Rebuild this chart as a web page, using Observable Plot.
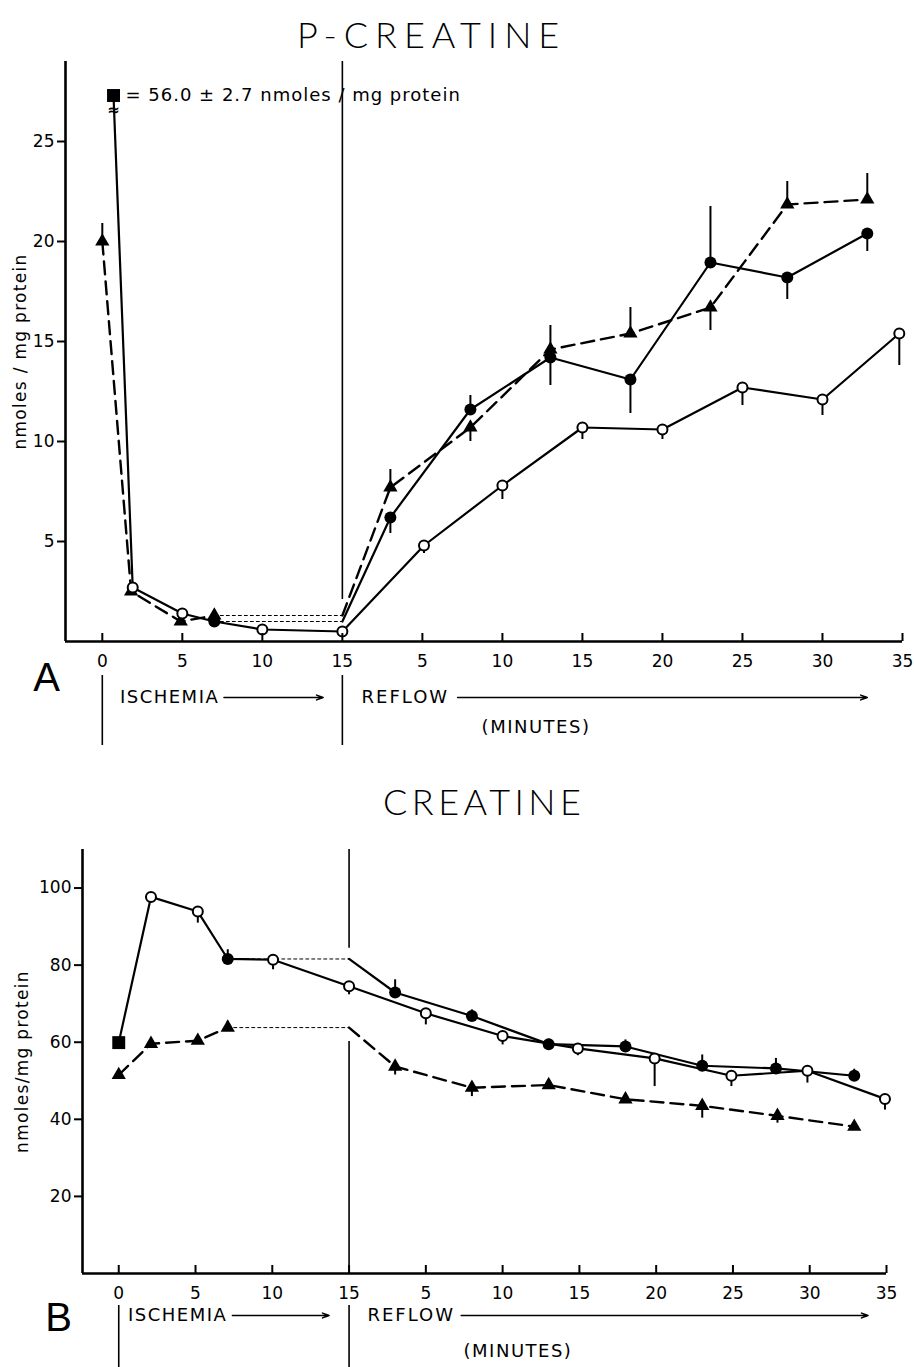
<!DOCTYPE html>
<html><head><meta charset="utf-8">
<script src="https://cdn.jsdelivr.net/npm/d3@7"></script>
<script src="https://cdn.jsdelivr.net/npm/@observablehq/plot@0.6"></script>
<style>
body{margin:0;background:#fff;width:914px;height:1367px;position:relative;overflow:hidden}
.title{position:absolute;font-family:Lato,"Open Sans",sans-serif;font-weight:300;font-size:36px;color:#000;line-height:1;white-space:nowrap}
.panel{position:absolute;left:0}
</style></head><body>
<div class="title" id="tA" style="left:297px;top:16px;letter-spacing:7px"></div>
<div id="pA" class="panel" style="top:55px"></div>
<div class="title" id="tB" style="left:383px;top:783px;letter-spacing:4.5px"></div>
<div id="pB" class="panel" style="top:835px"></div>
<script>
// ---- shared axis data ----
const xTicks = [0,5,10,15,20,25,30,35,40,45,50];
const xTickLabels = ["0","5","10","15","5","10","15","20","25","30","35"];
const phaseLabels = ["ISCHEMIA", "REFLOW", "(MINUTES)"];
const splitT = 15;

// ---- Panel A: P-creatine ----
const pcrTitle = "P-CREATINE";
const pcrLetter = "A";
const pcrYLabel = "nmoles / mg protein";
const pcrYTicks = [5,10,15,20,25];
const pcrControlT = [0.7];
const pcrControlV = [27.3];
const pcrControlNote = "= 56.0 ± 2.7 nmoles / mg protein";
const pcrOpenT = [1.9, 5, 10, 15, 20.1, 25, 30, 35, 40, 45, 49.8];
const pcrOpenV = [2.7, 1.4, 0.6, 0.5, 4.8, 7.8, 10.7, 10.6, 12.7, 12.1, 15.4];
const pcrOpenE = [null, null, null, null, 4.4, 7.1, 10.1, 10.1, 11.8, 11.3, 13.8];
const pcrFilledT = [7, 18, 23, 28, 33, 38, 42.8, 47.8];
const pcrFilledV = [1.0, 6.2, 11.6, 14.2, 13.1, 18.95, 18.2, 20.4];
const pcrFilledE = [null, 5.4, 12.3, 12.8, 11.4, 21.75, 17.1, 19.5];
const pcrTriT = [0, 1.8, 4.9, 7, 18, 23, 28, 33, 38, 42.8, 47.8];
const pcrTriV = [20.0, 2.5, 1.0, 1.3, 7.7, 10.7, 14.6, 15.4, 16.7, 21.85, 22.1];
const pcrTriE = [20.9, null, null, null, 8.6, 10.0, 15.8, 16.7, 15.55, 23.0, 23.4];
const pcrDividers = [[2.1, 29]];

// ---- Panel B: creatine ----
const crTitle = "CREATINE";
const crLetter = "B";
const crYLabel = "nmoles/mg protein";
const crYTicks = [20,40,60,80,100];
const crControlT = [0];
const crControlV = [59.9];
const crOpenT = [2.1, 5.15, 10.05, 15, 20, 25, 29.9, 34.9, 39.9, 44.85, 49.9];
const crOpenV = [97.7, 93.9, 81.4, 74.5, 67.5, 61.6, 58.4, 55.8, 51.3, 52.6, 45.3];
const crOpenE = [98.8, 90.9, 78.8, 72.3, 64.5, 59.3, 56.5, 48.5, 48.5, 49.4, 42.4];
const crFilledT = [7.1, 18, 23, 28, 33, 38, 42.8, 47.9];
const crFilledV = [81.6, 72.9, 66.8, 59.5, 58.9, 53.9, 53.2, 51.3];
const crFilledE = [84.0, 76.2, 68.4, 60.8, 60.6, 56.7, 55.8, 53.0];
const crTriT = [0, 2.1, 5.15, 7.1, 18, 23, 28, 33, 38, 42.9, 47.9];
const crTriV = [51.5, 59.6, 60.4, 63.8, 53.7, 48.2, 48.9, 45.2, 43.5, 40.9, 38.1];
const crTriE = [null, null, null, 65.4, 51.5, 45.9, null, null, 40.3, 39.0, null];
const crDividers = [[0, 60.2], [84.4, 110]];

const labelMap = new Map(xTicks.map((d, i) => [d, xTickLabels[i]]));
const FONT = "'DejaVu Sans', 'Liberation Sans', Arial, sans-serif";

function panel(cfg) {
  const ppu = (cfg.height - cfg.marginTop - cfg.marginBottom) / (cfg.yDomain[1] - cfg.yDomain[0]);
  const below = px => -px / ppu;
  const rows = (T, V, E) => T.map((t, i) => ({t, v: V[i], e: E ? E[i] : null}));
  const open = rows(cfg.openT, cfg.openV, cfg.openE);
  const filled = rows(cfg.filledT, cfg.filledV, cfg.filledE);
  const tri = rows(cfg.triT, cfg.triV, cfg.triE);
  const control = rows(cfg.controlT, cfg.controlV);
  const f0 = filled[0];
  const openLine = [...control, ...open, f0].sort((a, b) => a.t - b.t);
  const filledBridge = [f0, {t: splitT, v: f0.v}];
  const filledLine = [{t: splitT, v: f0.v}, ...filled.slice(1)];
  const triIsch = tri.filter(d => d.t < splitT);
  const tl = triIsch[triIsch.length - 1];
  const triBridge = [tl, {t: splitT, v: tl.v}];
  const triLine = [{t: splitT, v: tl.v}, ...tri.filter(d => d.t > splitT)];
  const errs = [...open, ...filled, ...tri].filter(d => d.e != null);
  const a = cfg.ann;
  const annText = {fontSize: 18};
  const marks = [
    Plot.ruleX(cfg.dividers, {x: () => splitT, y1: d => d[0], y2: d => d[1], strokeWidth: 1.6}),
    Plot.line(filledBridge, {x: "t", y: "v", strokeWidth: 1, strokeDasharray: "3,3"}),
    Plot.line(triBridge, {x: "t", y: "v", strokeWidth: 1, strokeDasharray: "3,3"}),
    Plot.line(openLine, {x: "t", y: "v", strokeWidth: 2.2}),
    Plot.line(filledLine, {x: "t", y: "v", strokeWidth: 2.2}),
    Plot.line(triIsch, {x: "t", y: "v", strokeWidth: 2.4, strokeDasharray: "13,7"}),
    Plot.line(triLine, {x: "t", y: "v", strokeWidth: 2.4, strokeDasharray: "13,7"}),
    Plot.ruleX(errs, {x: "t", y1: "v", y2: "e", strokeWidth: 2}),
    Plot.dot(control, {x: "t", y: "v", symbol: "square", r: 7.3, fill: "black"}),
    Plot.dot(tri, {x: "t", y: "v", symbol: "triangle", r: 5.3, fill: "black"}),
    Plot.dot(filled, {x: "t", y: "v", r: 6, fill: "black"}),
    Plot.dot(open, {x: "t", y: "v", r: 5, fill: "white", stroke: "black", strokeWidth: 2}),
    // axes
    Plot.ruleY([0], {strokeWidth: 2.6}),
    Plot.ruleX([cfg.xDomain[0]], {strokeWidth: 2.6}),
    Plot.ruleX(xTicks, {x: d => d, y1: 0, y2: 8 / ppu, strokeWidth: 2}),
    Plot.axisX({ticks: xTicks, tickSize: 0, tickPadding: 13, tickFormat: d => labelMap.get(d), label: null, fontSize: 17}),
    Plot.axisY({ticks: cfg.yTicks, tickSize: 8, tickPadding: 3, strokeWidth: 2, label: null, fontSize: 17}),
    Plot.text([cfg.yLabel], {frameAnchor: "left", rotate: -90, dx: -cfg.labelOffset, textAnchor: "middle", fontSize: 17}),
    // phase annotations below the axis
    Plot.text([cfg.letter], {frameAnchor: "bottom-left", dx: a.letterDx, dy: a.letterDy, fontSize: 40, textAnchor: "middle", fontFamily: "'Liberation Sans', Arial, sans-serif"}),
    Plot.ruleX([0, splitT], {x: d => d, y1: below(a.barTop), y2: below(a.barBottom), strokeWidth: 1.6}),
    Plot.text([phaseLabels[0]], {x: a.ischT, y: below(a.rowY), textAnchor: "start", ...annText}),
    Plot.arrow([0], {x1: a.ischArrow[0], x2: a.ischArrow[1], y1: below(a.rowY), y2: below(a.rowY), strokeWidth: 1.5, headLength: 7, headAngle: 40}),
    Plot.text([phaseLabels[1]], {x: a.reflowT, y: below(a.rowY), textAnchor: "start", ...annText}),
    Plot.arrow([0], {x1: a.reflowArrow[0], x2: a.reflowArrow[1], y1: below(a.rowY), y2: below(a.rowY), strokeWidth: 1.5, headLength: 7, headAngle: 40}),
    Plot.text([phaseLabels[2]], {x: a.minutesT, y: below(a.minutesY), textAnchor: "middle", ...annText})
  ];
  if (cfg.controlNote) {
    marks.push(Plot.text(control, {x: "t", y: "v", text: () => cfg.controlNote, dx: 12, textAnchor: "start", fontSize: 18}));
    marks.push(Plot.text(control, {x: "t", y: "v", text: () => "≈", dy: 15, fontSize: 15, fontWeight: "bold"}));
  }
  const svg = Plot.plot({
    width: 914, height: cfg.height,
    marginLeft: cfg.marginLeft, marginRight: cfg.marginRight,
    marginTop: cfg.marginTop, marginBottom: cfg.marginBottom,
    x: {domain: cfg.xDomain},
    y: {domain: cfg.yDomain},
    style: {fontFamily: FONT, background: "white", color: "black", overflow: "visible"},
    marks
  });
  // widen letter spacing of the label texts to match the original lettering
  const spacing = new Map([[cfg.controlNote, "1px"], [cfg.yLabel, "1.3px"],
    [phaseLabels[0], "1.5px"], [phaseLabels[1], "2px"], [phaseLabels[2], "1.5px"]]);
  d3.select(svg).selectAll("text").each(function() {
    const s = spacing.get(this.textContent);
    if (s) this.setAttribute("letter-spacing", s);
  });
  return svg;
}

document.getElementById("tA").textContent = pcrTitle;
document.getElementById("tB").textContent = crTitle;

document.getElementById("pA").append(panel({
  height: 695, marginLeft: 65, marginRight: 12, marginTop: 6, marginBottom: 109,
  xDomain: [-2.3, 50], yDomain: [0, 29], yTicks: pcrYTicks, yLabel: pcrYLabel, labelOffset: 45,
  letter: pcrLetter, controlNote: pcrControlNote,
  controlT: pcrControlT, controlV: pcrControlV,
  openT: pcrOpenT, openV: pcrOpenV, openE: pcrOpenE,
  filledT: pcrFilledT, filledV: pcrFilledV, filledE: pcrFilledE,
  triT: pcrTriT, triV: pcrTriV, triE: pcrTriE,
  dividers: pcrDividers,
  ann: {letterDx: -19, letterDy: 49, barTop: 34, barBottom: 104, rowY: 56, minutesY: 86,
        ischT: 1.1, ischArrow: [7.6, 13.8], reflowT: 16.2, reflowArrow: [22.2, 47.8], minutesT: 27.1}
}));

document.getElementById("pB").append(panel({
  height: 532, marginLeft: 82, marginRight: 28, marginTop: 14, marginBottom: 94,
  xDomain: [-2.36, 50], yDomain: [0, 110], yTicks: crYTicks, yLabel: crYLabel, labelOffset: 60,
  letter: crLetter, controlNote: null,
  controlT: crControlT, controlV: crControlV,
  openT: crOpenT, openV: crOpenV, openE: crOpenE,
  filledT: crFilledT, filledV: crFilledV, filledE: crFilledE,
  triT: crTriT, triV: crTriV, triE: crTriE,
  dividers: crDividers,
  ann: {letterDx: -24, letterDy: 57, barTop: 32, barBottom: 94, rowY: 42, minutesY: 78,
        ischT: 0.6, ischArrow: [7.4, 13.7], reflowT: 16.2, reflowArrow: [22.3, 48.8], minutesT: 26}
}));
</script>
</body></html>
